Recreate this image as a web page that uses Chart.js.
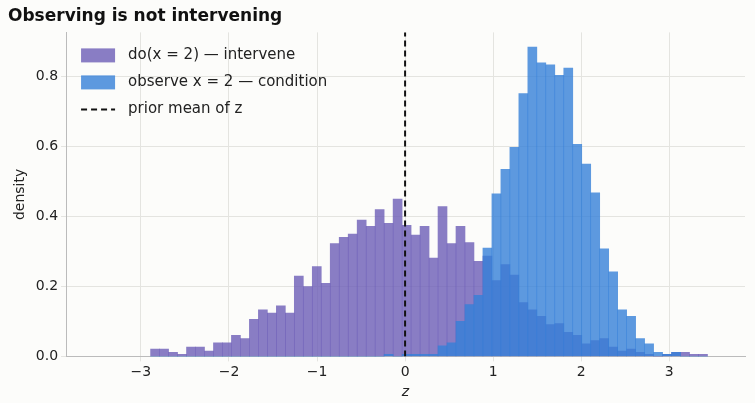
<!DOCTYPE html>
<html lang="en">
<head>
<meta charset="UTF-8">
<title>Observing is not intervening</title>
<style>
  html, body { margin: 0; padding: 0; background: #fcfcfa; }
  #wrap { width: 755px; height: 403px; }
</style>
</head>
<body>
<div id="wrap"><canvas id="chart"></canvas></div>
<script src="https://cdn.jsdelivr.net/npm/chart.js"></script>
<script>
// histogram bins (shared edges)
const binStart = -2.89;
const binWidth = 0.102;
// density per bin
const interveneDensity = [0.021, 0.021, 0.012, 0.006, 0.027, 0.027, 0.015, 0.039, 0.039, 0.06,
  0.051, 0.106, 0.133, 0.124, 0.145, 0.124, 0.23, 0.2, 0.257, 0.209,
  0.323, 0.341, 0.35, 0.39, 0.372, 0.42, 0.381, 0.45, 0.375, 0.347,
  0.372, 0.281, 0.429, 0.323, 0.372, 0.326, 0.272, 0.287, 0.217, 0.263,
  0.233, 0.154, 0.133, 0.115, 0.091, 0.094, 0.069, 0.06, 0.036, 0.045,
  0.051, 0.027, 0.015, 0.021, 0.012, 0.006, 0, 0.006, 0.012, 0.012,
  0.006, 0.006];
const observeDensity = [0, 0, 0, 0, 0, 0, 0, 0, 0, 0,
  0, 0, 0, 0, 0, 0, 0, 0, 0, 0,
  0, 0, 0, 0, 0, 0, 0.006, 0, 0.006, 0.006,
  0.006, 0.006, 0.03, 0.039, 0.1, 0.148, 0.175, 0.31, 0.465, 0.535,
  0.598, 0.752, 0.885, 0.84, 0.834, 0.804, 0.825, 0.607, 0.55, 0.468,
  0.308, 0.242, 0.133, 0.115, 0.051, 0.036, 0.012, 0.006, 0.012, 0,
  0, 0];
const xTicks = [-3, -2, -1, 0, 1, 2, 3];
const yTicks = [0, 0.2, 0.4, 0.6, 0.8];
const priorMean = 0;

const toPoints = arr => arr.map((y, i) => ({ x: binStart + binWidth * (i + 0.5), y }));
const font = { family: 'DejaVu Sans', size: 14 };

new Chart(document.getElementById('chart'), {
  data: {
    datasets: [
      {
        type: 'bar', label: 'do(x = 2) — intervene', data: toPoints(interveneDensity),
        backgroundColor: 'rgba(108, 92, 182, 0.8)', grouped: false,
        barPercentage: 1, categoryPercentage: 1, order: 2
      },
      {
        type: 'bar', label: 'observe x = 2 — condition', data: toPoints(observeDensity),
        backgroundColor: 'rgba(52, 128, 216, 0.8)', grouped: false,
        barPercentage: 1, categoryPercentage: 1, order: 1
      },
      {
        type: 'line', label: 'prior mean of z',
        data: [{ x: priorMean, y: 0 }, { x: priorMean, y: 0.93 }],
        borderColor: '#111', borderWidth: 2, borderDash: [6, 4],
        pointRadius: 0, order: 0
      }
    ]
  },
  options: {
    responsive: true, maintainAspectRatio: false, animation: false,
    layout: { padding: { left: 8, right: 10, top: 2, bottom: 2 } },
    plugins: {
      title: {
        display: true, text: 'Observing is not intervening', align: 'start',
        color: '#111', font: { family: 'DejaVu Sans', size: 17, weight: 'bold' },
        padding: { top: 4, bottom: 6 }
      },
      legend: { display: false },
      tooltip: { enabled: false }
    },
    scales: {
      x: {
        type: 'linear', min: -3.85, max: 3.86, offset: false,
        afterBuildTicks: ax => { ax.ticks = xTicks.map(v => ({ value: v })); },
        ticks: { font, color: '#222', callback: v => String(v).replace('-', '−') },
        grid: { color: '#e4e4e0', offset: false, tickLength: 5 },
        border: { color: '#bbb' },
        title: { display: true, text: 'z', font: { ...font, style: 'italic' }, color: '#222', padding: 0 }
      },
      y: {
        min: 0, max: 0.927,
        afterBuildTicks: ax => { ax.ticks = yTicks.map(v => ({ value: v })); },
        ticks: { font, color: '#222', callback: v => v.toFixed(1) },
        grid: { color: '#e4e4e0', tickLength: 5 },
        border: { color: '#bbb' },
        title: { display: true, text: 'density', font, color: '#222' }
      }
    }
  },
  plugins: [{
    id: 'innerLegend',
    afterDraw(chart) {
      const ctx = chart.ctx, a = chart.chartArea;
      const items = chart.data.datasets;
      ctx.save();
      ctx.font = '15px DejaVu Sans';
      ctx.textBaseline = 'middle';
      items.forEach((ds, i) => {
        const y = a.top + 23 + i * 27;
        const x = a.left + 15;
        if (ds.type === 'bar') {
          ctx.fillStyle = ds.backgroundColor;
          ctx.fillRect(x, y - 7, 34, 14);
        } else {
          ctx.strokeStyle = ds.borderColor; ctx.lineWidth = 2;
          ctx.setLineDash([6, 4]);
          ctx.beginPath(); ctx.moveTo(x, y); ctx.lineTo(x + 34, y); ctx.stroke();
          ctx.setLineDash([]);
        }
        ctx.fillStyle = '#222';
        ctx.fillText(ds.label, x + 47, y);
      });
      ctx.restore();
    }
  }]
});
</script>
</body>
</html>
